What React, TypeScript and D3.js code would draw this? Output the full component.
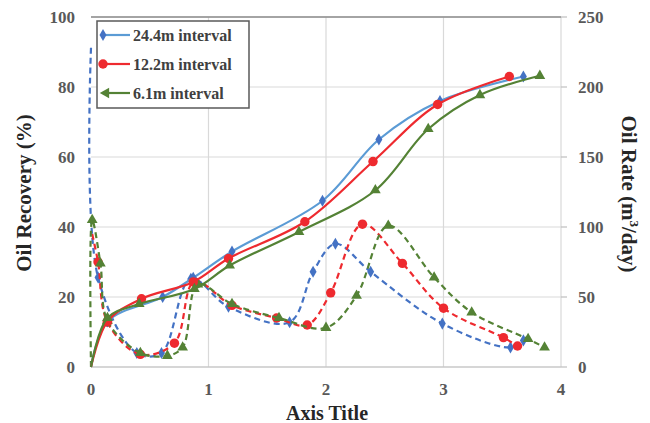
import { scaleLinear, line, curveCatmullRom, symbol, symbolDiamond, symbolCircle, symbolTriangle } from "d3";

const width = 650;
const height = 423;

// x axis and the two y axes
const xTicks = [0, 1, 2, 3, 4];
const recoveryTicks = [0, 20, 40, 60, 80, 100];
const rateTicks = [0, 50, 100, 150, 200, 250];

// oil recovery (%), [time, value]
const recovery24 = [[0, 0], [0.14, 13], [0.61, 20], [0.87, 25.5], [1.2, 33], [1.97, 47.5], [2.45, 65], [2.97, 76], [3.68, 83]];
const recovery12 = [[0, 0], [0.14, 13], [0.43, 19.5], [0.87, 24.3], [1.17, 31], [1.82, 41.5], [2.4, 58.7], [2.95, 75], [3.56, 83]];
const recovery61 = [[0, 0], [0.14, 14], [0.41, 18], [0.88, 22.3], [1.18, 29], [1.77, 38.6], [2.42, 50.5], [2.87, 68], [3.31, 77.7], [3.82, 83.2]];

// oil rate (m3/day), [time, value]
const rate24 = [[0, 228], [0.06, 64], [0.39, 10], [0.6, 10], [0.85, 63], [1.17, 43], [1.69, 32], [1.89, 68], [2.08, 88], [2.38, 68], [2.99, 31], [3.57, 14], [3.68, 19]];
const rate12 = [[0.01, 95], [0.06, 75], [0.14, 32], [0.42, 9], [0.71, 17], [0.88, 61], [1.2, 44], [1.58, 35], [1.84, 30], [2.04, 53], [2.31, 102], [2.65, 74], [3.0, 42], [3.51, 21], [3.63, 15]];
const rate61 = [[0, 0], [0.01, 105], [0.08, 74], [0.14, 33], [0.42, 10], [0.65, 8], [0.78, 14], [0.91, 59], [1.2, 45], [1.6, 35], [2.0, 28], [2.26, 51], [2.53, 101], [2.92, 64], [3.24, 39], [3.72, 20], [3.86, 14]];

const legendLabels = ["24.4m interval", "12.2m interval", "6.1m interval"];

const x = scaleLinear().domain([0, 4]).range([91, 561]);
const yRec = scaleLinear().domain([0, 100]).range([367, 17]);
const yRate = scaleLinear().domain([0, 250]).range([367, 17]);

const font = "'Liberation Serif', serif";
const tickColor = "#595959";

const blue = "#5b9bd5";
const blueDark = "#4472c4";
const red = "#ee2a2f";
const green = "#548235";

const shapes = [
  symbol().type(symbolDiamond).size(42)(),
  symbol().type(symbolCircle).size(70)(),
  symbol().type(symbolTriangle).size(50)(),
];

const Series = ({ data, y, stroke, markerFill, shape, dashed }) => {
  const path = line()
    .x((d) => x(d[0]))
    .y((d) => y(d[1]))
    .curve(curveCatmullRom.alpha(0.5))(data);
  return (
    <g>
      <path d={path} fill="none" stroke={stroke} strokeWidth={2.2} strokeDasharray={dashed ? "6,4" : null} />
      {data.slice(1).map((d, i) => (
        <path key={i} d={shape} transform={`translate(${x(d[0])},${y(d[1])})`} fill={markerFill} />
      ))}
    </g>
  );
};

const App = () => {
  return (
    <svg width={width} height={height} style={{ position: "absolute", left: 0, top: 0, background: "#fff" }}>
      {/* grid */}
      {recoveryTicks.map((t) => (
        <line key={t} x1={x(0)} x2={x(4)} y1={yRec(t)} y2={yRec(t)} stroke="#d9d9d9" strokeWidth={1.2} />
      ))}
      {xTicks.slice(1).map((t) => (
        <line key={t} x1={x(t)} x2={x(t)} y1={yRec(0)} y2={yRec(100)} stroke="#d9d9d9" strokeWidth={1.2} />
      ))}
      <line x1={x(0)} x2={x(4)} y1={yRec(100)} y2={yRec(100)} stroke="#8c8c8c" strokeWidth={1.5} />
      <line x1={x(0)} x2={x(4)} y1={yRec(0)} y2={yRec(0)} stroke="#bfbfbf" strokeWidth={1.2} />
      {rateTicks.map((t) => (
        <line key={t} x1={x(4)} x2={x(4) + 6} y1={yRate(t)} y2={yRate(t)} stroke="#bfbfbf" strokeWidth={1.2} />
      ))}

      {/* tick labels */}
      {recoveryTicks.map((t) => (
        <text key={t} x={75} y={yRec(t)} dy="0.35em" textAnchor="end" fontFamily={font} fontWeight="bold" fontSize={17} fill={tickColor}>
          {t}
        </text>
      ))}
      {rateTicks.map((t) => (
        <text key={t} x={578} y={yRate(t)} dy="0.35em" fontFamily={font} fontWeight="bold" fontSize={17} fill={tickColor}>
          {t}
        </text>
      ))}
      {xTicks.map((t) => (
        <text key={t} x={x(t)} y={395} textAnchor="middle" fontFamily={font} fontWeight="bold" fontSize={17} fill={tickColor}>
          {t}
        </text>
      ))}

      {/* titles */}
      <text x={327} y={420} textAnchor="middle" fontFamily={font} fontWeight="bold" fontSize={20} fill="#262626">
        Axis Title
      </text>
      <text transform="translate(31,193) rotate(-90)" textAnchor="middle" fontFamily={font} fontWeight="bold" fontSize={21} fill="#262626">
        Oil Recovery (%)
      </text>
      <text transform="translate(622,194) rotate(90)" textAnchor="middle" fontFamily={font} fontWeight="bold" fontSize={21} fill="#262626">
        Oil Rate (m<tspan dy={-8} fontSize={13}>3</tspan>
        <tspan dy={8}>/day)</tspan>
      </text>

      {/* rate curves */}
      <Series data={rate24} y={yRate} stroke={blueDark} markerFill={blueDark} shape={shapes[0]} dashed />
      <Series data={rate12} y={yRate} stroke={red} markerFill={red} shape={shapes[1]} dashed />
      <Series data={rate61} y={yRate} stroke={green} markerFill={green} shape={shapes[2]} dashed />

      {/* recovery curves */}
      <Series data={recovery24} y={yRec} stroke={blue} markerFill={blueDark} shape={shapes[0]} />
      <Series data={recovery12} y={yRec} stroke={red} markerFill={red} shape={shapes[1]} />
      <Series data={recovery61} y={yRec} stroke={green} markerFill={green} shape={shapes[2]} />

      {/* legend */}
      <rect x={97} y={21} width={152} height={87} fill="#fff" stroke="#595959" strokeWidth={1.5} />
      {legendLabels.map((label, i) => {
        const ly = 35 + i * 29;
        const color = [blue, red, green][i];
        const mFill = [blueDark, red, green][i];
        return (
          <g key={label}>
            <line x1={i === 2 ? 104 : 101} x2={130} y1={ly} y2={ly} stroke={color} strokeWidth={2.2} />
            <path d={shapes[i]} fill={mFill} transform={`translate(${i === 2 ? 106 : 103},${ly}) rotate(${i === 2 ? -90 : 0})`} />
            <text x={133} y={ly} dy="0.35em" fontFamily={font} fontWeight="bold" fontSize={16} fill="#404040">
              {label}
            </text>
          </g>
        );
      })}
    </svg>
  );
};

export default App;
